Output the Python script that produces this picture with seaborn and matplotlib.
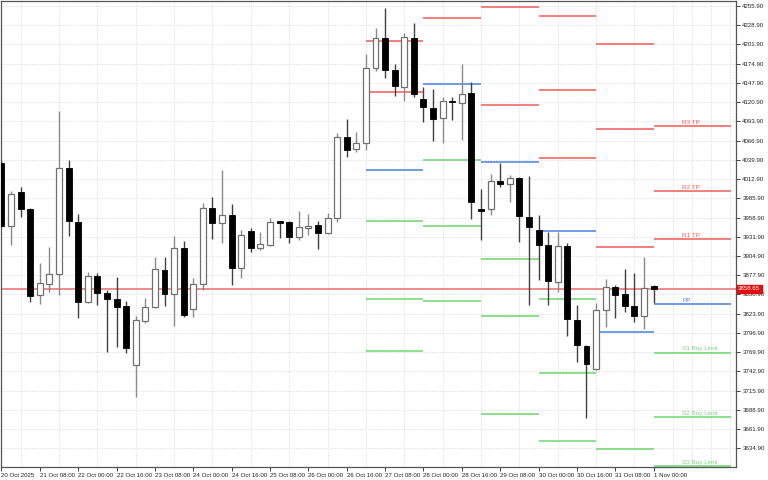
import numpy as np
import matplotlib
matplotlib.use("Agg")
import matplotlib.pyplot as plt
import seaborn as sns

sns.set_theme(style="white")
plt.rcParams["font.family"] = ["Liberation Sans", "DejaVu Sans"]

# --- 4H candles (index = bar number) ---
opens = [4036.0, 3947.5, 3994.3, 3970.4, 3849.7, 3865.6, 3879.6, 4028.0, 3952.2, 3839.9,
         3876.4, 3852.5, 3844.5, 3834.7, 3751.9, 3813.6, 3833.8, 3885.7, 3851.1, 3916.6,
         3830.0, 3865.6, 3972.8, 3950.8, 3963.0, 3887.6, 3939.5, 3916.6, 3920.8, 3953.1,
         3952.2, 3932.1, 3943.7, 3948.0, 3937.7, 3957.8, 4072.4, 4054.7, 4063.1, 4168.4,
         4210.5, 4166.0, 4142.6, 4210.5, 4125.3, 4113.2, 4098.2, 4122.5, 4120.2, 4133.3,
         3970.9, 3970.4, 4010.2, 4005.5, 4014.9, 3960.1, 3941.4, 3920.4, 3868.9, 3919.4,
         3815.1, 3779.0, 3746.3, 3829.1, 3861.9, 3851.1, 3834.7, 3821.1, 3862.8]
highs = [4040.0, 3996.6, 4001.3, 3972.8, 3895.1, 3917.5, 4108.5, 4039.7, 3964.3, 3882.4,
         3880.6, 3857.2, 3875.9, 3841.7, 3820.7, 3846.4, 3903.0, 3904.0, 3933.0, 3926.0,
         3874.5, 3978.9, 3988.2, 4025.7, 3977.4, 3941.4, 3943.7, 3938.6, 3957.8, 3953.5,
         3954.5, 3968.6, 3963.9, 3954.1, 3965.7, 4077.1, 4097.2, 4079.5, 4188.0, 4224.5,
         4252.6, 4174.0, 4217.5, 4231.6, 4142.6, 4138.9, 4128.6, 4128.6, 4174.5, 4149.7,
         3998.5, 4020.0, 4035.9, 4018.6, 4016.3, 4017.7, 3962.5, 3939.1, 3939.1, 3922.7,
         3836.1, 3779.9, 3838.5, 3872.2, 3864.2, 3886.7, 3880.6, 3904.0, 3864.2]
lows = [3944.0, 3920.4, 3960.1, 3840.8, 3838.0, 3853.9, 3850.6, 3933.4, 3818.3, 3838.9,
        3836.1, 3769.7, 3777.6, 3768.3, 3707.4, 3810.4, 3832.3, 3835.2, 3806.6, 3818.8,
        3819.7, 3857.2, 3928.3, 3923.6, 3864.2, 3873.6, 3911.0, 3913.3, 3919.0, 3929.7,
        3922.7, 3927.4, 3934.4, 3914.7, 3935.3, 3953.1, 4044.4, 4051.4, 4053.7, 4164.6,
        4154.3, 4130.0, 4123.0, 4128.6, 4093.5, 4066.8, 4064.0, 4095.8, 4067.8, 3956.8,
        3927.4, 3962.5, 4002.3, 3981.2, 3924.1, 3836.1, 3871.2, 3836.1, 3854.8, 3793.1,
        3755.6, 3677.9, 3744.9, 3805.7, 3817.4, 3825.8, 3812.7, 3802.4, 3838.5]
closes = [3947.0, 3991.9, 3970.4, 3848.7, 3866.5, 3879.6, 4028.0, 3954.0, 3840.3, 3876.4,
          3852.5, 3844.5, 3833.8, 3775.3, 3815.0, 3833.8, 3886.2, 3851.5, 3916.6, 3822.1,
          3865.6, 3972.8, 3950.8, 3963.0, 3887.6, 3934.9, 3916.6, 3921.3, 3952.2, 3951.7,
          3931.1, 3945.6, 3947.5, 3937.7, 3958.3, 4072.4, 4053.7, 4063.1, 4168.4, 4210.5,
          4166.0, 4143.6, 4211.9, 4131.9, 4113.6, 4097.2, 4122.5, 4120.6, 4132.3, 3980.2,
          3968.6, 4010.7, 4005.5, 4014.0, 3960.6, 3946.1, 3920.4, 3869.8, 3919.4, 3816.0,
          3779.9, 3753.7, 3829.1, 3861.9, 3850.2, 3834.7, 3821.1, 3859.5, 3858.65]
last_price = 3858.65

# --- daily pivot levels (start bar, end bar) ---
day_start = [38, 44, 50, 56, 62, 68]
day_end = [44, 50, 56, 62, 68, 76.04]
nan = np.nan
r3 = [nan, nan, nan, 4241.9, 4203.0, 4086.9]
r2 = [4206.8, nan, 4255.0, 4138.0, 4082.7, 3995.7]
r1 = [4135.6, 4238.6, 4116.4, 4042.5, 3918.0, 3928.3]
pp = [4025.6, 4145.9, 4036.4, 3939.5, 3798.2, 3837.0]
s1 = [3953.6, 4039.2, 3900.7, 3844.5, 3633.9, 3769.2]
s2 = [3844.1, 3947.5, 3820.7, 3740.2, nan, 3678.4]
s3 = [3771.0, 3841.3, 3682.6, 3644.7, nan, 3610.0]
level_names = ["R3 TP", "R2 TP", "R1 TP", "PP", "S1 Buy Limit", "S2 Buy Limit", "S3 Buy Limit"]

x_tick_bars = [0, 4, 8, 12, 16, 20, 24, 28, 32, 36, 40, 44, 48, 52, 56, 60, 64, 68]
x_tick_labels = ["20 Oct 2025", "21 Oct 08:00", "22 Oct 00:00", "22 Oct 16:00", "23 Oct 08:00",
                 "24 Oct 00:00", "24 Oct 16:00", "25 Oct 08:00", "26 Oct 00:00", "26 Oct 16:00",
                 "27 Oct 08:00", "28 Oct 00:00", "28 Oct 16:00", "29 Oct 08:00", "30 Oct 00:00",
                 "30 Oct 16:00", "31 Oct 08:00", "1 Nov 00:00"]
y_ticks = [4255.9, 4228.9, 4201.9, 4174.9, 4147.9, 4120.9, 4093.9, 4066.9, 4039.9, 4012.9,
           3985.9, 3958.9, 3931.9, 3904.9, 3877.9, 3850.9, 3823.9, 3796.9, 3769.9, 3742.9,
           3715.9, 3688.9, 3661.9, 3634.9]

fig = plt.figure(figsize=(7.68, 4.8), dpi=100)
ax = fig.add_axes([1 / 768, 13 / 480, 735 / 768, 466 / 480])

o = np.array(opens)
c = np.array(closes)
h = np.array(highs)
lo = np.array(lows)
idx = np.arange(len(o))
bull = c >= o

# wicks
ax.vlines(idx[bull], lo[bull], h[bull], color="#8a8a8a", lw=1, zorder=2)
ax.vlines(idx[~bull], lo[~bull], h[~bull], color="#404040", lw=1, zorder=2)

# bodies
body_bottom = np.minimum(o, c)
body_h = np.maximum(np.abs(c - o), 2.0)
ax.bar(idx[bull], body_h[bull], bottom=body_bottom[bull], width=0.62,
       color="white", edgecolor="#707070", linewidth=0.9, zorder=3)
ax.bar(idx[~bull], body_h[~bull], bottom=body_bottom[~bull], width=0.62,
       color="black", edgecolor="black", linewidth=0.6, zorder=3)

# current price line
ax.axhline(last_price, color="#f08a8a", lw=1.4, zorder=1)

# pivot segments
levels = [r3, r2, r1, pp, s1, s2, s3]
level_colors = ["#f25a5a", "#f25a5a", "#f25a5a", "#4a80e0", "#6fd46f", "#6fd46f", "#6fd46f"]
label_colors = ["#f25a5a", "#f25a5a", "#f25a5a", "#4a80e0", "#7ad67a", "#7ad67a", "#7ad67a"]
for vals, col in zip(levels, level_colors):
    ax.hlines(vals, day_start, day_end, color=col, lw=1.1, zorder=1)

for vals, name, col in zip(levels, level_names, label_colors):
    ax.annotate(name, (71.0, vals[-1]), xytext=(0, 1), textcoords="offset points",
                ha="left", va="bottom", fontsize=4.6, color=col)

ax.set_xlim(-0.05, 76.59)
ax.set_ylim(3608.7, 4262.9)

ax.set_xticks(x_tick_bars)
ax.set_xticklabels(x_tick_labels, ha="left")
ax.set_xticks(np.arange(0, 77, 2), minor=True)
ax.set_yticks(y_ticks)
ax.set_yticklabels([f"{v:.2f}" for v in y_ticks])
ax.yaxis.tick_right()

ax.tick_params(axis="x", which="major", length=3, width=0.6, pad=1.5, labelsize=4.4,
               colors="#222222", direction="out", bottom=True)
ax.tick_params(axis="x", which="minor", length=0)
ax.tick_params(axis="y", length=3, width=0.6, pad=1.5, labelsize=4.4, colors="#222222",
               direction="out", right=True, left=False)

ax.grid(True, which="minor", axis="x", color="#d6d6d6", lw=0.5, ls=(0, (2, 2)), zorder=0)
ax.grid(True, which="major", axis="y", color="#d6d6d6", lw=0.5, ls=(0, (2, 2)), zorder=0)
ax.set_axisbelow(True)

for sp in ax.spines.values():
    sp.set_color("#555555")
    sp.set_linewidth(0.9)

# current price box on the price scale
ax.text(1.003, last_price, f"{last_price:.2f}", transform=ax.get_yaxis_transform(),
        ha="left", va="center", fontsize=4.4, color="white",
        bbox=dict(boxstyle="square,pad=0.2", fc="#e01010", ec="#e01010"), zorder=5,
        clip_on=False)

fig.savefig("out.png", dpi=100, facecolor="white")
